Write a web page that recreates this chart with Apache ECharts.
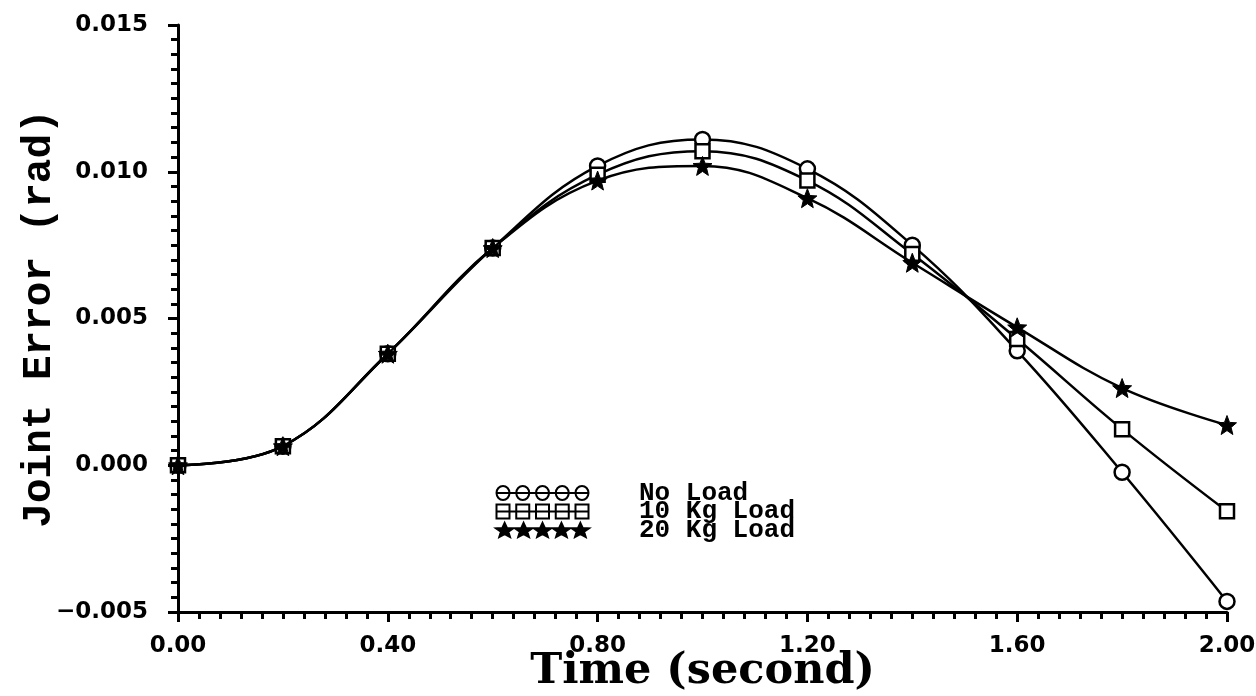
<!DOCTYPE html>
<html>
<head>
<meta charset="utf-8">
<script src="https://cdn.jsdelivr.net/npm/echarts@6/dist/echarts.min.js"></script>
<style>
html,body{margin:0;padding:0;background:#fff;}
#chart{width:1256px;height:696px;}
</style>
</head>
<body>
<div id="chart"></div>
<script>
// ---- data ----
const times  = [0.0, 0.2, 0.4, 0.6, 0.8, 1.0, 1.2, 1.4, 1.6, 1.8, 2.0];
const noLoad = [0.0, 0.00065, 0.0038, 0.0074, 0.0102, 0.0111, 0.0101, 0.0075, 0.0039, -0.00024, -0.00464];
const kg10   = [0.0, 0.00065, 0.0038, 0.0074, 0.0099, 0.0107, 0.0097, 0.0072, 0.0043, 0.00123, -0.00157];
const kg20   = [0.0, 0.00065, 0.0038, 0.0074, 0.0097, 0.0102, 0.0091, 0.0069, 0.0047, 0.00263, 0.00137];
const seriesNames = ['No Load', '10 Kg Load', '20 Kg Load'];
const xTicks = [0.0, 0.4, 0.8, 1.2, 1.6, 2.0];
const yTicks = [-0.005, 0.0, 0.005, 0.010, 0.015];

function pairs(xs, ys){ return xs.map((x,i)=>[x, ys[i]]); }

// star geometry helper (icon shape only)
function starPath(cx, cy, R, r){
  let d = '';
  for (let k = 0; k < 10; k++){
    const a = (-90 + 36*k) * Math.PI/180;
    const rad = (k % 2 === 0) ? R : r;
    const x = (cx + rad*Math.cos(a)).toFixed(2);
    const y = (cy + rad*Math.sin(a)).toFixed(2);
    d += (k === 0 ? 'M' : 'L') + x + ',' + y + ' ';
  }
  return d + 'Z ';
}
const starSymbol = 'path://' + starPath(10, 10, 10, 4.3);

// legend icons: five markers chained on a line
function circleChain(){
  let d = 'M0,7 L93,7 ';
  const cs = [7, 26.75, 46.5, 66.25, 86];
  cs.forEach(c => { d += `M${c-6.5},7 A6.5,6.5 0 1,1 ${c+6.5},7 A6.5,6.5 0 1,1 ${c-6.5},7 Z `; });
  return 'path://' + d;
}
function squareChain(){
  let d = 'M0,7 L93,7 ';
  const cs = [7, 26.75, 46.5, 66.25, 86];
  cs.forEach(c => { d += `M${c-6.5},0.5 L${c+6.5},0.5 L${c+6.5},13.5 L${c-6.5},13.5 Z `; });
  return 'path://' + d;
}
function starChain(){
  let d = '';
  const cs = [9, 27.75, 46.5, 65.25, 84];
  cs.forEach(c => { d += starPath(c, 7.6, 9, 3.9); });
  return 'path://' + d;
}

const chart = echarts.init(document.getElementById('chart'));
const hollow = {color:'#fff', borderColor:'#000', borderWidth:2.5};

const option = {
  backgroundColor:'#fff',
  animation:false,
  grid:{left:178, right:29, top:25, bottom:84, containLabel:false, outerBoundsMode:'none'},
  legend:{
    orient:'vertical',
    left:490, top:475,
    itemWidth:93, itemHeight:14, itemGap:-7.5,
    symbolKeepAspect:false,
    selectedMode:false,
    textStyle:{fontFamily:'Liberation Mono', fontWeight:'bold', fontSize:26, color:'#000',
               padding:[0,0,0,45]},
    data:[
      {name:seriesNames[0], icon:circleChain()},
      {name:seriesNames[1], icon:squareChain()},
      {name:seriesNames[2], icon:starChain()}
    ]
  },
  xAxis:{
    type:'value', min:0, max:2.0, interval:0.4,
    name:'Time (second)', nameLocation:'middle', nameGap:38, nameMoveOverlap:false,
    nameTextStyle:{fontFamily:'DejaVu Serif', fontWeight:'bold', fontSize:43, color:'#000'},
    axisLine:{show:true, onZero:false, lineStyle:{color:'#000', width:3}},
    axisTick:{show:true, inside:false, length:10, lineStyle:{color:'#000', width:3}},
    minorTick:{show:true, splitNumber:10, length:7, lineStyle:{color:'#000', width:3}},
    splitLine:{show:false},
    axisLabel:{margin:23, color:'#000', fontFamily:'DejaVu Sans', fontWeight:'bold', fontSize:23,
      formatter:v => xTicks.some(t=>Math.abs(t-v)<1e-9) ? v.toFixed(2) : ''}
  },
  yAxis:{
    type:'value', min:-0.005, max:0.015, interval:0.005,
    name:'Joint Error (rad)', nameLocation:'middle', nameGap:118, nameRotate:90, nameMoveOverlap:false,
    nameTextStyle:{fontFamily:'Liberation Mono', fontWeight:'bold', fontSize:41, color:'#000'},
    axisLine:{show:true, onZero:false, lineStyle:{color:'#000', width:3}},
    axisTick:{show:true, inside:false, length:10, lineStyle:{color:'#000', width:3}},
    minorTick:{show:true, splitNumber:10, length:7, lineStyle:{color:'#000', width:3}},
    splitLine:{show:false},
    axisLabel:{margin:30, color:'#000', fontFamily:'DejaVu Sans', fontWeight:'bold', fontSize:23,
      formatter:v => { const t = yTicks.find(t=>Math.abs(t-v)<1e-9); return t===undefined ? '' : (t<0 ? '\u2212'+Math.abs(t).toFixed(3) : t.toFixed(3)); }}
  },
  series:[
    {name:seriesNames[0], type:'line', data:pairs(times,noLoad), smooth:0.4, clip:false,
     symbol:'circle', symbolSize:15, showAllSymbol:true,
     lineStyle:{color:'#000', width:2.5}, itemStyle:hollow, z:2},
    {name:seriesNames[1], type:'line', data:pairs(times,kg10), smooth:0.4, clip:false,
     symbol:'rect', symbolSize:14, showAllSymbol:true,
     lineStyle:{color:'#000', width:2.5}, itemStyle:hollow, z:3},
    {name:seriesNames[2], type:'line', data:pairs(times,kg20), smooth:0.4, clip:false,
     symbol:starSymbol, symbolSize:19, showAllSymbol:true,
     lineStyle:{color:'#000', width:2.5}, itemStyle:{color:'#000', borderColor:'#000', borderWidth:1}, z:4}
  ]
};
chart.setOption(option);
</script>
</body>
</html>
